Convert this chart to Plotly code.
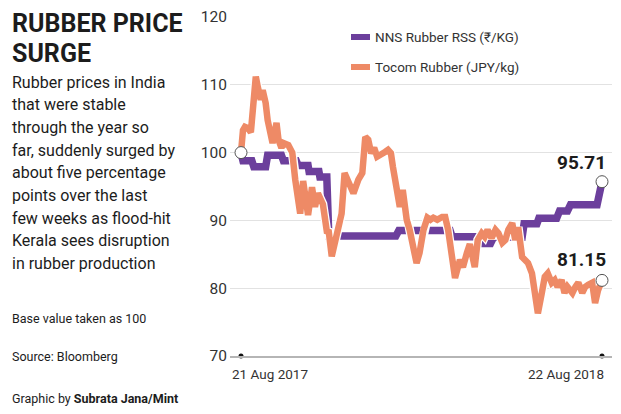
import pandas as pd
import plotly.graph_objects as go

# ---------------- data ----------------
START = "2017-08-21"

# NNS Rubber RSS index (base 100), days since 21 Aug 2017
nns_days = [0, 2, 11, 13, 25, 27, 41, 43, 56, 58, 68, 69, 79, 80, 87, 89,
            157, 160, 212, 214, 239, 241, 253, 256, 285, 287, 300, 302,
            320, 323, 331, 334, 361, 366]
nns_vals = [100, 98.8, 98.8, 97.9, 97.9, 99.6, 99.6, 98.8, 98.8, 98.1, 98.1,
            97.2, 97.2, 96.4, 96.4, 87.7, 87.7, 88.5, 88.5, 87.6, 87.6, 86.6,
            86.6, 87.5, 87.5, 89.5, 89.5, 90.3, 90.3, 91.4, 91.4, 92.3, 92.3,
            95.71]

# Tocom Rubber index (base 100), days since 21 Aug 2017
tocom_days = [0, 2, 4, 7, 10, 12, 15, 17, 20, 22, 25, 27, 30, 32, 36, 38, 41,
              43, 48, 52, 55, 58, 60, 63, 66, 68, 72, 75, 78, 83, 87, 89, 92,
              97, 102, 105, 111, 114, 119, 123, 126, 129, 132, 135, 138, 143,
              146, 149, 152, 154, 158, 161, 164, 166, 168, 171, 174, 178, 181,
              185, 189, 192, 195, 199, 204, 207, 210, 214, 217, 222, 225, 229,
              232, 237, 240, 244, 247, 250, 254, 258, 261, 265, 268, 271, 275,
              278, 281, 285, 288, 291, 295, 298, 301, 305, 308, 311, 315, 318,
              321, 325, 328, 331, 336, 339, 342, 346, 349, 352, 356, 359, 362,
              366]
tocom_vals = [100, 103.3, 103.8, 103.6, 103.0, 106.7, 111.2, 109.7, 107.8,
              109.2, 107.3, 104.8, 102.3, 101.4, 104.4, 101.9, 100.7, 101.4,
              101.1, 100.0, 96.0, 92.0, 91.0, 95.8, 92.5, 90.8, 94.9, 92.0,
              94.0, 92.4, 88.4, 88.3, 84.7, 87.5, 91.0, 97.0, 95.2, 94.0,
              96.0, 97.0, 102.3, 101.9, 99.9, 100.7, 99.4, 100.0, 100.1,
              100.4, 99.9, 97.9, 94.9, 92.0, 94.5, 92.0, 90.1, 88.6, 86.7,
              83.7, 85.2, 88.6, 90.4, 90.1, 90.4, 90.1, 90.5, 90.5, 88.6,
              85.2, 81.5, 84.2, 83.1, 85.2, 86.5, 83.1, 87.1, 88.1, 87.6,
              88.6, 87.4, 88.6, 88.1, 86.7, 87.1, 88.6, 89.6, 87.1, 89.0,
              84.6, 84.2, 83.7, 82.2, 79.7, 76.3, 79.3, 81.7, 82.2, 80.8,
              81.2, 80.2, 81.2, 79.3, 80.2, 79.3, 80.2, 80.8, 79.3, 80.2,
              80.5, 80.8, 77.8, 79.7, 81.15]

y_ticks = [70, 80, 90, 100, 110, 120]
x_labels = ["21 Aug 2017", "22 Aug 2018"]
series_names = ["NNS Rubber RSS (₹/KG)", "Tocom Rubber (JPY/kg)"]
title_lines = ["RUBBER PRICE", "SURGE"]
body_lines = ["Rubber prices in India", "that were stable",
              "through the year so", "far, suddenly surged by",
              "about five percentage", "points over the last",
              "few weeks as flood-hit", "Kerala sees disruption",
              "in rubber production"]
notes = ["Base value taken as 100", "Source: Bloomberg",
         "Graphic by <b>Subrata Jana/Mint</b>"]

# ---------------- styling ----------------
PURPLE = "#6c3f9c"
ORANGE = "#ee8a66"
FONT = "Roboto, Liberation Sans, sans-serif"
TXT = "#1c1c1c"

W, H = 621, 414
L, R, T, B = 230, 9, 17, 58
PW, PH = W - L - R, H - T - B


def px(x):
    return (x - L) / PW


def py(y):
    return (H - B - y) / PH


def label(text, x, y, size, xanchor="left", color=TXT):
    return dict(text=text, x=px(x), y=py(y), xref="paper", yref="paper",
                xanchor=xanchor, yanchor="middle", showarrow=False,
                font=dict(family=FONT, size=size, color=color))


start = pd.Timestamp(START)
nns_x = start + pd.to_timedelta(nns_days, unit="D")
toc_x = start + pd.to_timedelta(tocom_days, unit="D")
day_per_px = 366 / 361.0
x0 = start - pd.Timedelta(days=11 * day_per_px)
x1 = toc_x[-1] + pd.Timedelta(days=10 * day_per_px)

fig = go.Figure()
fig.add_trace(go.Scatter(x=nns_x, y=nns_vals, mode="lines",
                         line=dict(color=PURPLE, width=7.5), hoverinfo="skip"))
fig.add_trace(go.Scatter(x=toc_x, y=tocom_vals, mode="lines",
                         line=dict(color="white", width=9), hoverinfo="skip"))
fig.add_trace(go.Scatter(x=toc_x, y=tocom_vals, mode="lines",
                         line=dict(color=ORANGE, width=6.5), hoverinfo="skip"))
# open circles at start and ends
fig.add_trace(go.Scatter(
    x=[nns_x[0], nns_x[-1], toc_x[-1]],
    y=[nns_vals[0], nns_vals[-1], tocom_vals[-1]],
    mode="markers", cliponaxis=False, hoverinfo="skip",
    marker=dict(size=12, color="white", line=dict(color="#555", width=1))))
# small dots on the axis
fig.add_trace(go.Scatter(
    x=[nns_x[0], nns_x[-1]], y=[y_ticks[0], y_ticks[0]],
    mode="markers", cliponaxis=False, hoverinfo="skip",
    marker=dict(size=5, color="#111")))

ann = []
for i, t in enumerate(title_lines):
    ann.append(label(f"<b>{t}</b>", 10, 24 + i * 29, 25))
for i, t in enumerate(body_lines):
    ann.append(label(t, 10, 82 + i * 22.7, 16))
for t, yy in zip(notes, [318, 356, 398]):
    ann.append(label(t, 10, yy, 12.5))
ann.append(label(x_labels[0], 230, 374, 13.5, color="#333"))
ann.append(label(x_labels[1], 606, 374, 13.5, xanchor="right", color="#333"))
ann.append(label(f"<b>{nns_vals[-1]:.2f}</b>", 608, 162, 19, xanchor="right"))
ann.append(label(f"<b>{tocom_vals[-1]:.2f}</b>", 608, 259, 19, xanchor="right"))

shapes = []
for name, col, yy in zip(series_names, [PURPLE, ORANGE], [37, 67]):
    shapes.append(dict(type="line", xref="paper", yref="paper",
                       x0=px(351), x1=px(370), y0=py(yy), y1=py(yy),
                       line=dict(color=col, width=6)))
    ann.append(label(name, 373, yy, 13.5, color="#333"))

fig.update_layout(
    width=W, height=H, margin=dict(l=L, r=R, t=T, b=B),
    paper_bgcolor="white", plot_bgcolor="white", showlegend=False,
    annotations=ann, shapes=shapes,
    xaxis=dict(range=[x0, x1], showgrid=False, showticklabels=False,
               ticks="", zeroline=False, showline=True,
               linecolor="#b5b5b5", linewidth=1.5, fixedrange=True),
    yaxis=dict(range=[70, 120], tickvals=y_ticks,
               ticktext=[str(v) for v in y_ticks],
               showgrid=True, gridcolor="#e2e2e2", gridwidth=1,
               zeroline=False, showline=False, ticks="",
               ticklabelstandoff=2,
               tickfont=dict(family=FONT, size=15.5, color="#333"),
               fixedrange=True),
)

fig.write_html("out.html", config={"displayModeBar": False},
               post_script="document.body.style.margin='0';")
